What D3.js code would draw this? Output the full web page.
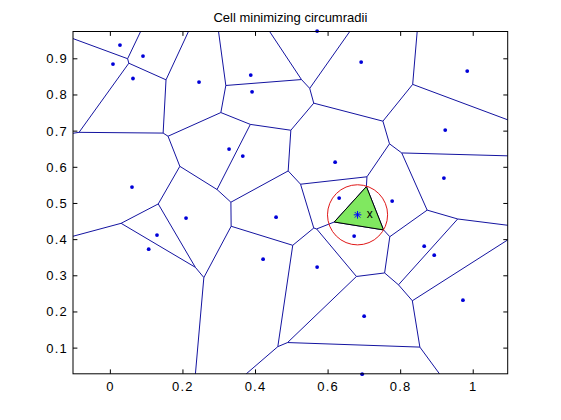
<!DOCTYPE html>
<html lang="en">
<head>
<meta charset="UTF-8">
<title>Cell minimizing circumradii</title>
<script src="https://d3js.org/d3.v7.min.js"></script>
<style>
    html, body {
        margin: 0;
        background: #fff;
    }
    text {
        font-family: "Liberation Sans", Arial, sans-serif;
    }
</style>
</head>
<body>
<div id="vis"></div>
<script>
// generator points
var pointX = [0.0265, 0.0899, 0.0072, 0.0623, 0.2443, 0.3869, 0.3905, 0.5698, 0.6911, 0.9835,
              0.9228, 0.3271, 0.3649, 0.6194, 0.0596, 0.9192, 0.6305, 0.7766, 0.2085, 0.1285,
              0.1056, 0.4567, 0.4209, 0.6718, 0.5698, 0.8649, 0.8925, 0.9716, 0.6994, 0.6939];
var pointY = [0.9379, 0.9075, 0.8853, 0.8455, 0.8356, 0.8549, 0.8087, 0.9766, 0.8909, 0.8660,
              0.7028, 0.6503, 0.6309, 0.6143, 0.5452, 0.5701, 0.5148, 0.5065, 0.4595, 0.4125,
              0.3737, 0.4622, 0.3460, 0.4097, 0.3240, 0.3820, 0.3571, 0.2327, 0.1884, 0.0280];
// the point whose cell has the smallest circumradius
var cellPoint = [0.6812, 0.4686];
var labelPoint = [0.7151, 0.4713];
var xTicks = [0, 0.2, 0.4, 0.6, 0.8, 1];
var yTicks = [0.1, 0.2, 0.3, 0.4, 0.5, 0.6, 0.7, 0.8, 0.9];
var xDomain = [-0.103, 1.095];
var yDomain = [0.029, 0.9755];
var title = 'Cell minimizing circumradii';

var width = 561, height = 420;
var margin = {top: 31.5, left: 73, right: 53.3, bottom: 46.2};
var w = width - margin.left - margin.right;
var h = height - margin.top - margin.bottom;

var svg = d3.select('#vis')
    .append('svg')
    .attr('width', width)
    .attr('height', height);

svg.append('defs').append('clipPath')
    .attr('id', 'plotclip')
    .append('rect')
    .attr('width', w)
    .attr('height', h);

var g = svg.append('g')
    .attr('transform', 'translate(' + margin.left + ',' + margin.top + ')');

var x = d3.scaleLinear().domain(xDomain).range([0, w]);
var y = d3.scaleLinear().domain(yDomain).range([h, 0]);

var points = pointX.map(function(d, i) { return [d, pointY[i]]; });
points.push(cellPoint);
var cellIndex = points.length - 1;

var delaunay = d3.Delaunay.from(points, function(d) { return x(d[0]); }, function(d) { return y(d[1]); });
var voronoi = delaunay.voronoi([-3000, -3000, 3000, 3000]);

var plot = g.append('g').attr('clip-path', 'url(#plotclip)');

plot.append('path')
    .attr('d', voronoi.render())
    .attr('fill', 'none')
    .attr('stroke', '#1414a0')
    .attr('stroke-width', 1);

// blue dots
g.selectAll('.pt')
    .data(points)
    .enter()
    .append('circle')
    .attr('class', 'pt')
    .attr('cx', function(d) { return x(d[0]); })
    .attr('cy', function(d) { return y(d[1]); })
    .attr('r', 1.9)
    .attr('fill', '#0000d8');

// the chosen cell
var cell = voronoi.cellPolygon(cellIndex);
g.append('path')
    .attr('d', 'M' + cell.slice(0, -1).join('L') + 'Z')
    .attr('fill', '#80e860')
    .attr('stroke', '#000')
    .attr('stroke-width', 1);

var cx = x(cellPoint[0]), cy = y(cellPoint[1]);
var radius = d3.max(cell, function(p) { return Math.hypot(p[0] - cx, p[1] - cy); });

g.append('circle')
    .attr('cx', cx)
    .attr('cy', cy)
    .attr('r', radius)
    .attr('fill', 'none')
    .attr('stroke', '#e01818')
    .attr('stroke-width', 1);

// asterisk marker
var s = 3.8, t = s * 0.72;
g.append('path')
    .attr('transform', 'translate(' + cx + ',' + cy + ')')
    .attr('d', 'M' + -s + ',0H' + s + 'M0,' + -s + 'V' + s +
               'M' + -t + ',' + -t + 'L' + t + ',' + t + 'M' + -t + ',' + t + 'L' + t + ',' + -t)
    .attr('stroke', '#0000ff')
    .attr('stroke-width', 1)
    .attr('fill', 'none');

g.append('text')
    .attr('x', x(labelPoint[0]))
    .attr('y', y(labelPoint[1]) + 4)
    .attr('text-anchor', 'middle')
    .attr('font-size', 12)
    .attr('fill', '#000')
    .text('x');

// axes box with inward ticks on all sides
var tl = 4.4;
g.append('rect')
    .attr('width', w)
    .attr('height', h)
    .attr('fill', 'none')
    .attr('stroke', '#000')
    .attr('stroke-width', 1);

var axisG = g.append('g').attr('stroke', '#000').attr('stroke-width', 1);
xTicks.forEach(function(v) {
    var px = x(v);
    axisG.append('line').attr('x1', px).attr('x2', px).attr('y1', h).attr('y2', h - tl);
    axisG.append('line').attr('x1', px).attr('x2', px).attr('y1', 0).attr('y2', tl);
});
yTicks.forEach(function(v) {
    var py = y(v);
    axisG.append('line').attr('x1', 0).attr('x2', tl).attr('y1', py).attr('y2', py);
    axisG.append('line').attr('x1', w).attr('x2', w - tl).attr('y1', py).attr('y2', py);
});

g.selectAll('.xlab')
    .data(xTicks)
    .enter()
    .append('text')
    .attr('class', 'xlab')
    .attr('x', function(d) { return x(d); })
    .attr('y', h + 17)
    .attr('text-anchor', 'middle')
    .attr('font-size', 13)
    .attr('letter-spacing', 1.2)
    .text(function(d) { return d3.format('')(d); });

g.selectAll('.ylab')
    .data(yTicks)
    .enter()
    .append('text')
    .attr('class', 'ylab')
    .attr('x', -5)
    .attr('y', function(d) { return y(d) + 4.5; })
    .attr('text-anchor', 'end')
    .attr('font-size', 13)
    .attr('letter-spacing', 1.2)
    .text(function(d) { return d3.format('.1f')(d); });

svg.append('text')
    .attr('x', margin.left + w / 2)
    .attr('y', 22)
    .attr('text-anchor', 'middle')
    .attr('font-size', 13)
    .text(title);
</script>
</body>
</html>
